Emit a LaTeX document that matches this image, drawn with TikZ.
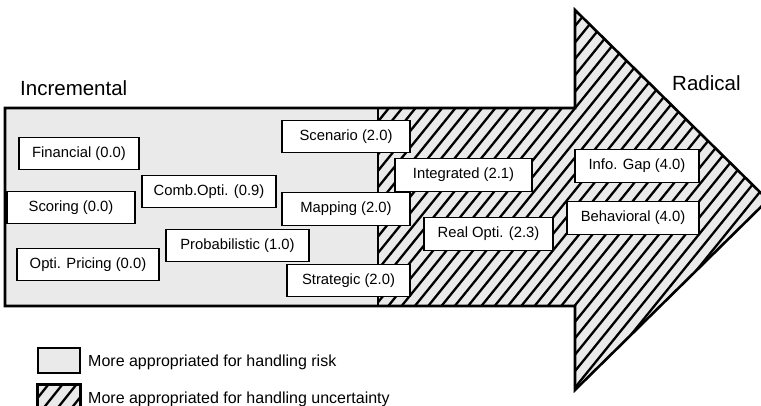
\documentclass[tikz,border=0pt]{standalone}
\usepackage{fontspec}
\setmainfont{Liberation Sans}
\definecolor{riskgray}{RGB}{233,234,233}
\newcommand\arrowoutline{(5,108) -- (575,108) -- (575,10) -- (768,200) -- (575,390) -- (575,306) -- (5,306) -- cycle}

\begin{document}
\begin{tikzpicture}[x=1pt,y=-1pt]

\tikzset{
    method/.style={draw, fill=white, line width=1.3pt, minimum height=32.5pt, inner sep=0pt, font=\fontsize{14.8}{16}\selectfont},
    hatchline/.style={line width=2.3pt},
    title/.style={anchor=west, inner sep=0pt, font=\fontsize{20.5}{24}\selectfont},
    legend/.style={anchor=west, inner sep=0pt, font=\fontsize{16}{19}\selectfont},
    key/.style={draw, line width=1.6pt, fill=riskgray, minimum width=42pt, minimum height=25pt, inner sep=0pt}
}
\useasboundingbox (0,0) rectangle (761,406);
\clip (0,0) rectangle (761,406);

% the big arrow
\fill[riskgray] \arrowoutline;
\begin{scope}
    \clip (378,0) rectangle (800,406);
    \clip \arrowoutline;
    \foreach \x in {30,43.3,...,790}
        \draw[hatchline] (\x,420) -- ++(340,-420);
\end{scope}
\draw[line width=1.8pt] (378,108) -- (378,306);
\draw[line width=2.6pt] \arrowoutline;

\node[title] (incremental) at (20,88) {Incremental};
\node[title] (radical) at (672,83) {Radical};

% risk side
\node[method, minimum width=120pt] (financial) at (79,153.5) {Financial (0.0)};
\node[method, minimum width=128pt] (scoring) at (71,207.5) {Scoring (0.0)};
\node[method, minimum width=142pt] (pricing) at (88,264.5) {Opti. Pricing (0.0)};
\node[method, minimum width=134pt] (comb) at (209,191.5) {Comb.Opti. (0.9)};
\node[method, minimum width=143pt] (probabilistic) at (237.5,245.5) {Probabilistic (1.0)};
\node[method, minimum width=128pt] (scenario) at (346,136.5) {Scenario (2.0)};
\node[method, minimum width=128pt] (mapping) at (346,209) {Mapping (2.0)};
\node[method, minimum width=123pt] (strategic) at (348.5,280.5) {Strategic (2.0)};

% uncertainty side
\node[method, minimum width=137pt] (integrated) at (463.5,175) {Integrated (2.1)};
\node[method, minimum width=129pt] (realopti) at (488.5,234) {Real Opti. (2.3)};
\node[method, minimum width=124pt] (infogap) at (637,166) {Info. Gap (4.0)};
\node[method, minimum width=132pt] (behavioral) at (633,218) {Behavioral (4.0)};

% legend
\node[key] (riskkey) at (59,360.5) {};
\node[legend] (risktext) at (88,362) {More appropriated for handling risk};
\node[key] (uncertkey) at (59,397.5) {};
\begin{scope}
    \clip (uncertkey.south west) rectangle (uncertkey.north east);
    \foreach \x in {10,24,...,80}
        \draw[hatchline] (\x,415) -- ++(32,-40);
\end{scope}
\draw[line width=1.6pt] (uncertkey.south west) rectangle (uncertkey.north east);
\node[legend] (uncerttext) at (88,399) {More appropriated for handling uncertainty};

\end{tikzpicture}
\end{document}
